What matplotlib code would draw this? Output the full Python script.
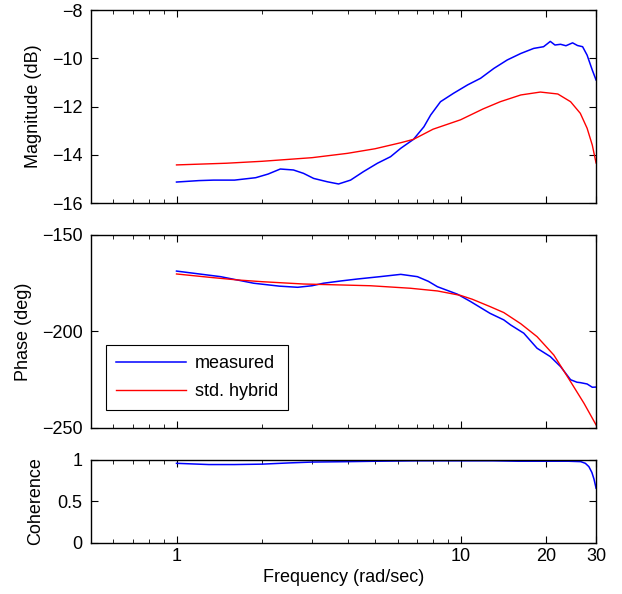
import matplotlib
matplotlib.use('Agg')
import matplotlib.pyplot as plt
from matplotlib.ticker import FixedLocator, NullFormatter, FixedFormatter

plt.rcParams['font.family'] = ['Liberation Sans', 'DejaVu Sans']
plt.rcParams['font.size'] = 13

# measured magnitude (dB)
mag_f = [1.0, 1.2, 1.35, 1.6, 1.9, 2.1, 2.32, 2.58, 2.8, 3.04, 3.4, 3.72, 4.1, 4.55, 5.1, 5.67,
         6.16, 6.83, 7.43, 7.85, 8.5, 9.45, 10.6, 11.76, 13.1, 14.6, 16.3, 18.1, 19.6, 20.2,
         20.7, 21.5, 22.5, 23.5, 24.8, 25.8, 26.9, 27.9, 29.1, 30]
mag_meas = [-15.13, -15.07, -15.05, -15.05, -14.95, -14.8, -14.59, -14.63, -14.77, -14.98, -15.12,
            -15.21, -15.05, -14.7, -14.35, -14.08, -13.73, -13.36, -12.84, -12.35, -11.8, -11.45,
            -11.1, -10.83, -10.42, -10.07, -9.8, -9.59, -9.52, -9.4, -9.3, -9.45, -9.42, -9.48,
            -9.36, -9.47, -9.52, -9.87, -10.49, -10.9]

# std. hybrid magnitude (dB)
hyb_f = [1, 1.5, 2, 3, 4, 5, 6.16, 6.83, 8, 10, 12, 13.8, 16.3, 19.1, 22, 24.4, 26.4, 27.9,
         29.1, 30]
mag_hyb = [-14.42, -14.35, -14.27, -14.12, -13.94, -13.75, -13.5, -13.36, -12.94, -12.55, -12.1,
           -11.8, -11.52, -11.4, -11.48, -11.8, -12.28, -12.9, -13.6, -14.34]

# measured phase (deg)
ph_f = [1, 1.43, 1.87, 2.3, 2.67, 3.0, 3.29, 3.8, 4.34, 5.2, 6.16, 7.05, 7.7, 8.29, 9.76, 10.85,
        12.7, 14.2, 15, 16.7, 18.6, 20.7, 22.5, 24.4, 25.7, 26.4, 27.9, 29.1, 30]
ph_meas = [-168.7, -171.6, -175.0, -176.5, -177.1, -176.3, -175.0, -173.8, -172.8, -171.6, -170.4,
           -171.6, -174.0, -176.8, -180.7, -184.5, -190.6, -194.0, -196.6, -200.9, -208.7,
           -213.0, -218.2, -225.0, -226.3, -226.5, -227.2, -228.9, -228.8]

# std. hybrid phase (deg)
phh_f = [1, 1.3, 1.64, 2, 2.8, 3.8, 4.82, 6.66, 8.29, 10, 11, 12.7, 14.2, 16.3, 18.6, 21.3,
         24.4, 27.2, 30]
ph_hyb = [-170.2, -171.9, -173.3, -174.2, -175.4, -175.9, -176.3, -177.6, -179.0, -181.3, -183.3,
          -187.1, -190.2, -196.0, -202.7, -212.2, -226.0, -237.2, -248.4]

# coherence
coh_f = [1, 1.3, 1.6, 2, 2.5, 3, 4, 5, 7, 10, 13, 16, 20, 24, 26.5, 27.5, 28.3, 29, 29.5, 30]
coh = [0.96, 0.945, 0.945, 0.95, 0.965, 0.975, 0.98, 0.985, 0.99, 0.99, 0.99, 0.985, 0.985,
       0.985, 0.98, 0.96, 0.92, 0.85, 0.77, 0.66]

fig = plt.figure(figsize=(6.22, 5.94), dpi=100)
left, width = 0.1463, 0.812
ax1 = fig.add_axes([left, 0.6582, width, 0.3249])
ax2 = fig.add_axes([left, 0.2795, width, 0.3249])
ax3 = fig.add_axes([left, 0.0859, width, 0.1397])

ax1.plot(mag_f, mag_meas, color='blue', lw=1.1)
ax1.plot(hyb_f, mag_hyb, color='red', lw=1)
ax1.set_ylim(-16, -8)
ax1.set_yticks([-16, -14, -12, -10, -8])
ax1.set_ylabel('Magnitude (dB)')
ax1.yaxis.set_label_coords(-0.097, 0.5)

ax2.plot(ph_f, ph_meas, color='blue', lw=1.1, label='measured')
ax2.plot(phh_f, ph_hyb, color='red', lw=1, label='std. hybrid')
ax2.set_ylim(-250, -150)
ax2.set_yticks([-250, -200, -150])
ax2.set_ylabel('Phase (deg)')
ax2.yaxis.set_label_coords(-0.117, 0.5)
leg = ax2.legend(loc='lower left', bbox_to_anchor=(0.03, 0.093), fancybox=False,
                 edgecolor='black', framealpha=1, handlelength=3.9, handletextpad=0.45,
                 borderpad=0.55, labelspacing=0.6, borderaxespad=0)
leg.get_frame().set_linewidth(0.8)

ax3.plot(coh_f, coh, color='blue', lw=1.1)
ax3.set_ylim(0, 1)
ax3.set_yticks([0, 0.5, 1])
ax3.set_yticklabels(['0', '0.5', '1'])
ax3.set_ylabel('Coherence')
ax3.yaxis.set_label_coords(-0.093, 0.5)
ax3.set_xlabel('Frequency (rad/sec)', labelpad=3)

minor = [0.5, 0.6, 0.7, 0.8, 0.9, 2, 3, 4, 5, 6, 7, 8, 9]
for ax in (ax1, ax2, ax3):
    ax.set_xscale('log')
    ax.set_xlim(0.5, 30)
    ax.xaxis.set_major_locator(FixedLocator([1, 10, 20, 30]))
    ax.xaxis.set_minor_locator(FixedLocator(minor))
    ax.xaxis.set_minor_formatter(NullFormatter())
    ax.tick_params(which='both', direction='in', top=True, right=True)
    ax.tick_params(which='major', length=5)
    ax.tick_params(which='minor', length=3)
    ax.tick_params(axis='y', pad=6)
    for s in ax.spines.values():
        s.set_linewidth(1)

ax1.xaxis.set_major_formatter(NullFormatter())
ax2.xaxis.set_major_formatter(NullFormatter())
ax3.xaxis.set_major_formatter(FixedFormatter(['1', '10', '20', '30']))

fig.savefig('out.png', dpi=100)
